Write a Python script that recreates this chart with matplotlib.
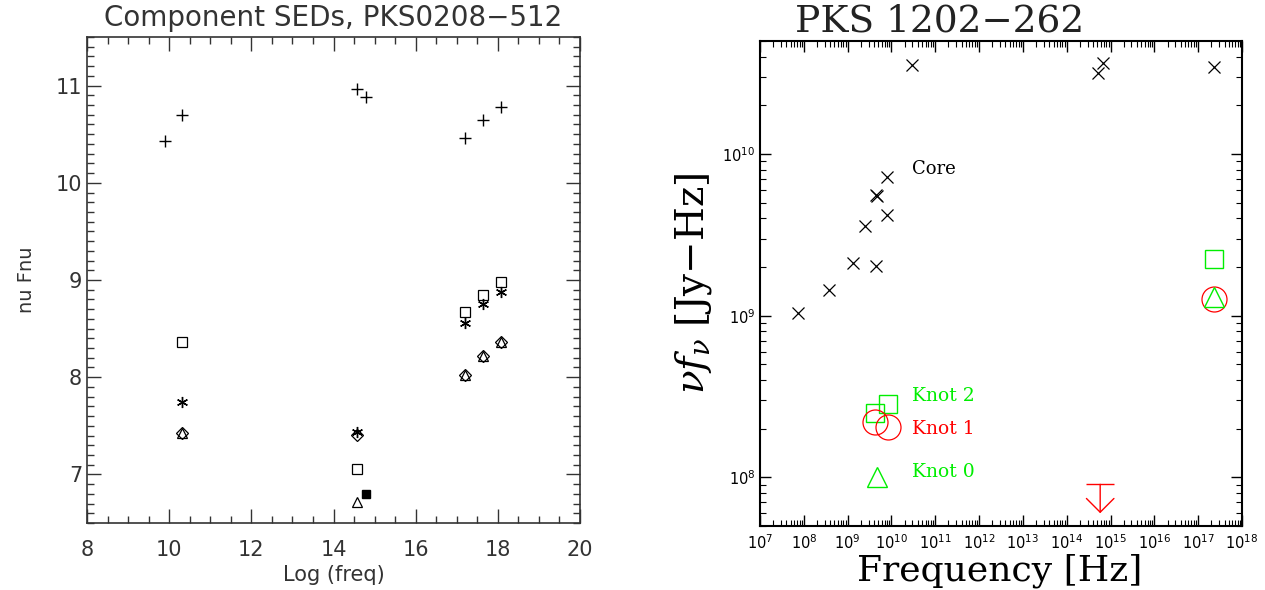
import matplotlib
matplotlib.use("Agg")
import matplotlib.pyplot as plt
from matplotlib.ticker import MultipleLocator, LogLocator, LogFormatterMathtext, NullFormatter

plt.rcParams['mathtext.fontset'] = 'dejavuserif'

# ---------------- left panel data: PKS0208-512 component SEDs ----------------
plus_x = [9.90, 10.32, 14.58, 14.80, 17.20, 17.65, 18.07]
plus_y = [10.43, 10.70, 10.96, 10.88, 10.46, 10.65, 10.78]

sq_x = [10.32, 14.58, 17.20, 17.65, 18.07]
sq_y = [8.36, 7.06, 8.67, 8.85, 8.98]

ast_x = [10.32, 14.58, 17.20, 17.65, 18.07]
ast_y = [7.74, 7.44, 8.56, 8.75, 8.88]

dia_x = [10.32, 14.58, 17.20, 17.65, 18.07]
dia_y = [7.43, 7.41, 8.02, 8.22, 8.36]

tri_x = [10.32, 14.58, 17.20, 17.65, 18.07]
tri_y = [7.43, 6.72, 8.02, 8.22, 8.36]

blob_x = [14.80]
blob_y = [6.80]

# ---------------- right panel data: PKS 1202-262 ----------------
core_x = [7.2e7, 3.8e8, 1.3e9, 4.5e9, 2.5e9, 4.6e9, 4.5e9, 8.0e9, 7.8e9, 2.95e10, 5.2e14, 6.6e14, 2.35e17]
core_y = [1.04e9, 1.45e9, 2.11e9, 2.04e9, 3.61e9, 5.5e9, 5.6e9, 4.17e9, 7.24e9, 3.55e10, 3.16e10, 3.63e10, 3.47e10]

knot2_x = [4.2e9, 8.3e9, 2.35e17]
knot2_y = [2.51e8, 2.85e8, 2.24e9]

knot1_x = [4.2e9, 8.3e9, 2.35e17]
knot1_y = [2.19e8, 2.04e8, 1.26e9]

knot0_x = [4.6e9, 2.35e17]
knot0_y = [1.0e8, 1.30e9]

ul_x = 5.8e14
ul_y = 9.05e7
ul_tip = 6.0e7

fig = plt.figure(figsize=(12.65, 5.90), dpi=100)

# ---------------- left panel ----------------
gray = '#333333'
ax1 = fig.add_axes([87 / 1265, 1 - 523 / 590, (580 - 87) / 1265, (523 - 37) / 590])
ax1.plot(plus_x, plus_y, '+', color='black', ms=9, mew=1.0)
ax1.plot(sq_x, sq_y, 's', mfc='none', mec='black', ms=7, mew=0.9)
ax1.plot(ast_x, ast_y, marker=(6, 2, 0), ls='none', color='black', ms=8, mew=1.0)
ax1.plot(dia_x, dia_y, 'D', mfc='none', mec='black', ms=6, mew=0.9)
ax1.plot(tri_x, tri_y, '^', mfc='none', mec='black', ms=7, mew=0.9)
ax1.plot(blob_x, blob_y, 's', color='black', ms=6)

ax1.set_xlim(8, 20)
ax1.set_ylim(6.5, 11.5)
ax1.xaxis.set_major_locator(MultipleLocator(2))
ax1.xaxis.set_minor_locator(MultipleLocator(0.5))
ax1.yaxis.set_major_locator(MultipleLocator(1))
ax1.yaxis.set_minor_locator(MultipleLocator(0.1))
ax1.tick_params(which='both', direction='in', top=True, right=True, colors=gray,
                labelsize=15, labelcolor=gray)
ax1.tick_params(which='major', length=10, width=1)
ax1.tick_params(which='minor', length=5, width=1)
ax1.tick_params(axis='x', pad=12)
for s in ax1.spines.values():
    s.set_color(gray)
    s.set_linewidth(1.2)
ax1.set_title('Component SEDs, PKS0208\u2212512', fontsize=20, color=gray, pad=8)
ax1.set_xlabel('Log (freq)', fontsize=15, color=gray, labelpad=4)
ax1.set_ylabel('nu Fnu', fontsize=14, color=gray, labelpad=14)

# ---------------- right panel ----------------
green = '#00ee00'
ax2 = fig.add_axes([760 / 1265, 1 - 526 / 590, (1242 - 760) / 1265, (526 - 41) / 590])
ax2.set_xscale('log')
ax2.set_yscale('log')
ax2.plot(core_x, core_y, 'x', color='black', ms=9, mew=0.9)
ax2.plot(knot2_x, knot2_y, 's', mfc='none', mec=green, ms=13, mew=1.0)
ax2.plot(knot1_x, knot1_y, 'o', mfc='none', mec='red', ms=18, mew=0.9)
ax2.plot(knot0_x, knot0_y, '^', mfc='none', mec=green, ms=15, mew=1.0)
ax2.plot([ul_x], [ul_y], '_', color='red', ms=20, mew=1.0)
ax2.annotate('', xy=(ul_x, ul_tip), xytext=(ul_x, ul_y),
             arrowprops=dict(arrowstyle='->,head_length=0.9,head_width=0.9',
                             color='red', lw=1.0, mutation_scale=11,
                             shrinkA=0, shrinkB=0))

ax2.text(2.95e10, 8.1e9, 'Core', fontsize=13, family='DejaVu Serif', va='center')
ax2.text(2.95e10, 3.2e8, 'Knot 2', fontsize=13.5, family='DejaVu Serif', va='center', color=green)
ax2.text(2.95e10, 1.98e8, 'Knot 1', fontsize=13.5, family='DejaVu Serif', va='center', color='red')
ax2.text(2.95e10, 1.08e8, 'Knot 0', fontsize=13.5, family='DejaVu Serif', va='center', color=green)

ax2.set_xlim(1e7, 1e18)
ax2.set_ylim(5e7, 5e10)
ax2.xaxis.set_major_locator(LogLocator(base=10, numticks=20))
ax2.xaxis.set_minor_locator(LogLocator(base=10, subs=range(2, 10), numticks=20))
ax2.yaxis.set_major_locator(LogLocator(base=10, numticks=20))
ax2.yaxis.set_minor_locator(LogLocator(base=10, subs=range(2, 10), numticks=20))
ax2.xaxis.set_major_formatter(LogFormatterMathtext())
ax2.yaxis.set_major_formatter(LogFormatterMathtext())
ax2.xaxis.set_minor_formatter(NullFormatter())
ax2.yaxis.set_minor_formatter(NullFormatter())
ax2.tick_params(which='both', direction='in', top=True, right=True, labelsize=10.5)
ax2.tick_params(which='major', length=8, width=1)
ax2.tick_params(which='minor', length=4, width=0.8)
ax2.tick_params(axis='x', pad=5)
for s in ax2.spines.values():
    s.set_linewidth(1.5)

fig.text(940 / 1265, 1 - 21 / 590, 'PKS 1202\u2212262', fontsize=27,
         family='DejaVu Serif', ha='center', va='center', color='#222222')
fig.text(1000 / 1265, 1 - 580 / 590, 'Frequency [Hz]', fontsize=26,
         family='DejaVu Serif', ha='center', va='baseline')
ax2.set_ylabel(r'$\nu f_\nu$ [Jy$-$Hz]', fontsize=28, family='DejaVu Serif', labelpad=6)

fig.savefig('out.png', dpi=100)
